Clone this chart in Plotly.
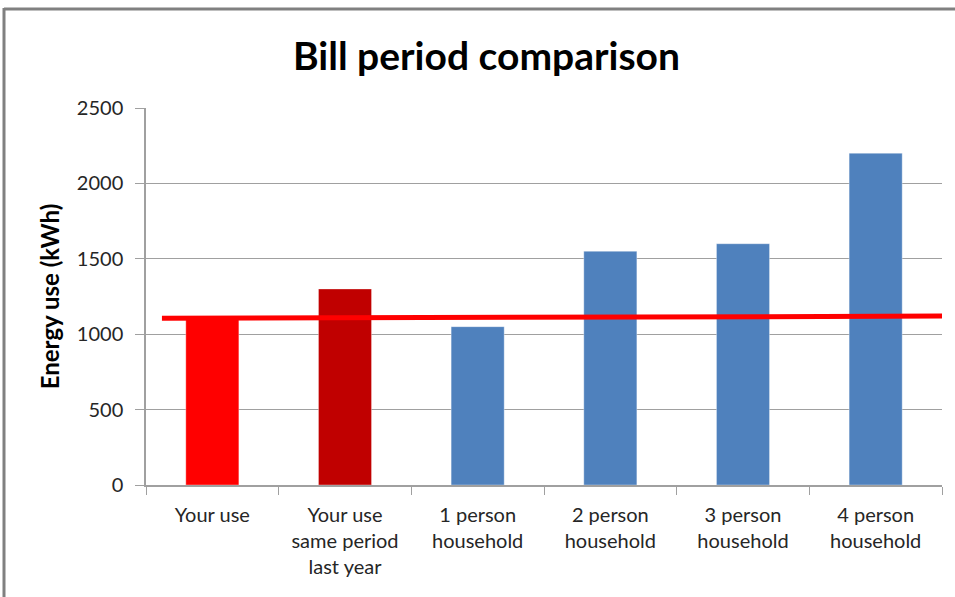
import plotly.graph_objects as go

categories = ["Your use", "Your use<br>same period<br>last year", "1 person<br>household",
              "2 person<br>household", "3 person<br>household", "4 person<br>household"]
values = [1100, 1300, 1050, 1550, 1600, 2200]
bar_colors = ["#FF0000", "#C00000", "#4F81BD", "#4F81BD", "#4F81BD", "#4F81BD"]
ref_line_x = [-0.38, 5.55]
ref_line_y = [1105, 1120]
y_ticks = [0, 500, 1000, 1500, 2000, 2500]

positions = list(range(len(categories)))
boundaries = [p - 0.5 for p in positions] + [positions[-1] + 0.5]

FONT = "Lato, 'Open Sans', sans-serif"

fig = go.Figure()
fig.add_trace(go.Bar(
    x=positions, y=values, width=0.4,
    marker=dict(color=bar_colors, line=dict(color="rgba(255,255,255,0.35)", width=1)),
    hoverinfo="y", showlegend=False,
))
fig.add_trace(go.Scatter(
    x=ref_line_x, y=ref_line_y, mode="lines",
    line=dict(color="#FF0000", width=5), showlegend=False, cliponaxis=False,
))

fig.update_layout(
    width=955, height=597,
    margin=dict(l=146, r=13, t=108, b=112),
    paper_bgcolor="white", plot_bgcolor="white",
    title=dict(text="<b>Bill period comparison</b>", x=486.5 / 955, xanchor="center",
               y=1 - 56 / 597, yanchor="middle",
               font=dict(family=FONT, size=39, color="#000000")),
    font=dict(family=FONT, color="#262626"),
    bargap=0.6,
    shapes=[
        dict(type="line", xref="paper", yref="paper",
             x0=(4 - 146) / 796, x1=(960 - 146) / 796, y0=(485 - 9) / 377, y1=(485 - 9) / 377,
             line=dict(color="#808080", width=3)),
        dict(type="line", xref="paper", yref="paper",
             x0=(4 - 146) / 796, x1=(4 - 146) / 796, y0=(485 - 8) / 377, y1=(485 - 600) / 377,
             line=dict(color="#808080", width=3)),
    ],
)
fig.update_xaxes(
    range=[-0.5, 5.5], tickmode="array", tickvals=positions, ticktext=categories,
    ticks="", showgrid=False, zeroline=False,
    showline=True, linecolor="#A0A0A0", linewidth=1.5,
    tickfont=dict(family=FONT, size=20, color="#262626"),
    ticklabelstandoff=11,
    minor=dict(tickmode="array", tickvals=boundaries, ticks="outside", ticklen=8,
               tickcolor="#A0A0A0", tickwidth=1, showgrid=False),
    fixedrange=True,
)
fig.update_yaxes(
    range=[0, 2500], tickmode="array", tickvals=y_ticks,
    ticks="outside", ticklen=9, tickcolor="#A0A0A0", tickwidth=1,
    showgrid=True, gridcolor="#A0A0A0", gridwidth=1,
    showline=True, linecolor="#A0A0A0", linewidth=1.5, zeroline=False,
    tickfont=dict(family=FONT, size=20, color="#262626"),
    ticklabelstandoff=8,
    title=dict(text="<b>Energy use (kWh)</b>", font=dict(family=FONT, size=24, color="#000000"),
               standoff=10),
    fixedrange=True,
)

fig.write_html("out.html")
